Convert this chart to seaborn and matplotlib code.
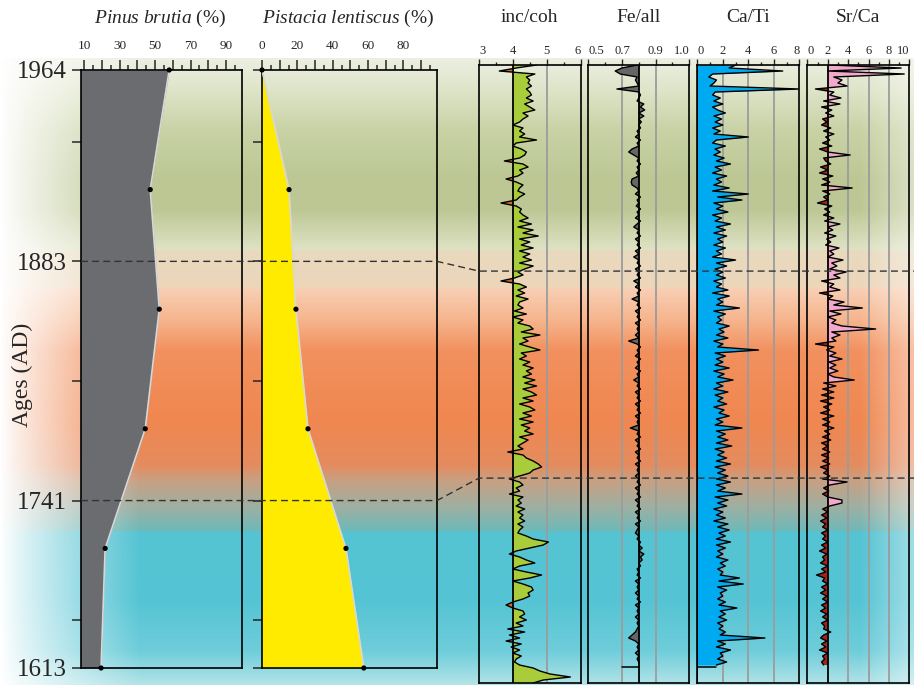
import numpy as np
import matplotlib
matplotlib.use("Agg")
import matplotlib.pyplot as plt
from matplotlib.lines import Line2D
import seaborn as sns

sns.set_theme(style="ticks")
plt.rcParams['font.family'] = ['Liberation Serif', 'DejaVu Serif']
plt.rcParams['mathtext.fontset'] = 'custom'
plt.rcParams['mathtext.it'] = 'Liberation Serif:italic'
plt.rcParams['mathtext.rm'] = 'Liberation Serif'

# ---- pollen data (depth units, 1964 at 0, 1613 at 50)
pollen_depth = [0, 10, 20, 30, 40, 50]
pinus = [58, 47.3, 52.4, 44.5, 21.9, 19.6]
pistacia = [0, 15.3, 19.2, 26.0, 47.5, 57.6]
age_depth = [0, 16, 36, 50]
age_labels = ['1964', '1883', '1741', '1613']
minor_depth = [6, 26, 46]

# ---- XRF scans, one value per sample step, core top to bottom
inc_coh = [4.7, 4.1, 3.6, 4.65, 4.4, 4.5, 4.45, 4.55, 4.4, 4.5,
           4.55, 4.4, 4.6, 4.35, 4.5, 4.65, 4.3, 4.45, 4.3, 4.2,
           4.0, 4.3, 4.2, 4.35, 4.2, 4.7, 4.1, 4.0, 4.25, 4.4,
           4.35, 4.2, 3.75, 4.3, 4.45, 4.2, 4.3, 4.15, 3.8, 4.1,
           4.3, 4.2, 4.15, 4.35, 4.2, 4.1, 3.65, 4.1, 4.25, 4.2,
           4.3, 4.45, 4.2, 4.55, 4.15, 4.6, 4.3, 4.75, 4.2, 4.5,
           4.25, 4.6, 4.2, 4.5, 4.3, 4.55, 4.2, 4.6, 4.35, 4.15,
           4.3, 4.05, 3.65, 4.2, 4.4, 4.15, 4.35, 4.1, 4.45, 4.2,
           4.15, 4.3, 4.05, 4.4, 4.0, 4.3, 4.15, 4.5, 4.6, 4.25,
           4.8, 4.3, 4.45, 4.2, 4.5, 4.8, 4.25, 4.4, 4.2, 4.5,
           4.3, 4.6, 4.4, 4.55, 4.3, 4.65, 4.35, 4.7, 4.3, 4.55,
           4.7, 4.3, 4.6, 4.2, 4.5, 4.65, 4.3, 4.55, 4.2, 4.6,
           4.25, 4.5, 4.35, 4.6, 4.2, 4.45, 4.3, 4.15, 4.3, 3.85,
           4.3, 4.4, 4.6, 4.75, 4.85, 4.6, 4.5, 4.2, 3.9, 4.2,
           4.3, 4.1, 4.2, 3.9, 4.3, 4.15, 4.25, 4.1, 4.35, 4.15,
           4.3, 4.2, 4.35, 4.15, 4.3, 4.2, 4.15, 4.4, 4.6, 5.05,
           4.9, 4.5, 4.1, 3.9, 4.2, 4.4, 4.65, 4.2, 4.0, 4.4,
           4.85, 4.5, 4.0, 4.3, 4.55, 4.6, 4.45, 4.5, 4.3, 4.0,
           3.8, 4.0, 4.3, 4.35, 4.2, 4.4, 4.1, 4.3, 3.85, 4.35,
           3.9, 4.2, 3.8, 4.25, 3.95, 4.2, 4.0, 4.25, 4.1, 4.05,
           4.2, 4.6, 4.8, 5.1, 5.7, 4.9, 4.6]
fe_all = [0.79, 0.70, 0.66, 0.69, 0.79, 0.78, 0.79, 0.80, 0.67, 0.80,
          0.81, 0.80, 0.79, 0.83, 0.81, 0.835, 0.80, 0.83, 0.80, 0.815,
          0.80, 0.81, 0.79, 0.80, 0.78, 0.81, 0.79, 0.80, 0.76, 0.74,
          0.77, 0.80, 0.79, 0.81, 0.79, 0.80, 0.785, 0.80, 0.76, 0.755,
          0.76, 0.79, 0.80, 0.78, 0.81, 0.79, 0.80, 0.785, 0.81, 0.79,
          0.80, 0.78, 0.81, 0.79, 0.77, 0.80, 0.79, 0.81, 0.78, 0.80,
          0.79, 0.81, 0.78, 0.80, 0.77, 0.80, 0.79, 0.81, 0.78, 0.80,
          0.79, 0.81, 0.77, 0.80, 0.78, 0.81, 0.79, 0.80, 0.76, 0.80,
          0.79, 0.81, 0.78, 0.80, 0.79, 0.81, 0.78, 0.80, 0.79, 0.80,
          0.78, 0.80, 0.74, 0.79, 0.81, 0.79, 0.80, 0.78, 0.81, 0.79,
          0.80, 0.78, 0.81, 0.79, 0.80, 0.77, 0.80, 0.79, 0.81, 0.78,
          0.80, 0.79, 0.81, 0.78, 0.80, 0.79, 0.81, 0.78, 0.80, 0.79,
          0.80, 0.75, 0.80, 0.79, 0.81, 0.78, 0.80, 0.79, 0.81, 0.78,
          0.80, 0.79, 0.81, 0.78, 0.80, 0.79, 0.80, 0.78, 0.80, 0.79,
          0.81, 0.78, 0.80, 0.79, 0.81, 0.78, 0.80, 0.79, 0.81, 0.78,
          0.80, 0.79, 0.81, 0.78, 0.80, 0.79, 0.78, 0.80, 0.79, 0.81,
          0.80, 0.82, 0.80, 0.83, 0.81, 0.82, 0.80, 0.81, 0.79, 0.80,
          0.79, 0.81, 0.78, 0.80, 0.79, 0.80, 0.78, 0.80, 0.79, 0.81,
          0.78, 0.80, 0.79, 0.80, 0.78, 0.80, 0.79, 0.80, 0.79, 0.78,
          0.76, 0.74, 0.78, 0.80, 0.79, 0.80, 0.78, 0.80, 0.79, 0.80,
          0.80]
fe_end = 0.70
ca_ti = [3.0, 2.5, 6.7, 1.2, 0.9, 1.5, 1.3, 1.0, 8.0, 1.4,
         1.2, 1.8, 1.3, 2.0, 1.2, 1.6, 2.2, 1.3, 1.9, 1.4,
         2.0, 1.2, 1.8, 1.3, 4.0, 1.5, 1.2, 2.2, 1.4, 1.8,
         1.3, 2.1, 1.5, 2.6, 1.4, 1.9, 1.2, 2.3, 1.5, 1.9,
         1.3, 2.5, 1.2, 4.0, 1.6, 3.5, 1.3, 2.0, 1.5, 2.4,
         1.2, 1.9, 1.4, 2.6, 1.5, 2.2, 1.3, 2.3, 1.6, 2.0,
         1.3, 2.2, 1.5, 1.9, 1.2, 3.0, 1.5, 2.3, 1.4, 2.0,
         1.5, 2.2, 1.3, 1.9, 1.5, 2.4, 1.2, 2.5, 1.6, 2.0,
         1.5, 3.3, 1.3, 2.2, 1.6, 1.9, 1.5, 2.5, 1.7, 2.1,
         1.5, 2.4, 1.3, 2.0, 1.6, 4.8, 1.4, 2.2, 1.5, 2.0,
         1.4, 2.5, 1.3, 2.1, 1.6, 2.8, 1.5, 2.0, 1.3, 2.4,
         1.4, 2.0, 1.6, 2.3, 1.3, 2.1, 1.7, 2.5, 1.5, 2.0,
         1.4, 3.5, 1.5, 2.2, 1.6, 2.4, 1.5, 2.7, 1.4, 2.1,
         1.6, 2.3, 1.5, 2.6, 1.4, 2.2, 1.6, 2.4, 1.5, 2.6,
         1.5, 2.2, 1.6, 3.5, 1.4, 2.4, 1.6, 2.3, 1.3, 2.0,
         1.5, 2.2, 1.3, 2.4, 1.6, 2.5, 1.7, 2.2, 1.5, 2.6,
         1.5, 2.2, 1.6, 2.0, 1.5, 2.4, 1.8, 2.2, 1.6, 2.0,
         1.8, 3.3, 1.7, 3.6, 1.6, 2.3, 1.8, 2.0, 1.6, 2.2,
         1.7, 3.1, 1.8, 2.2, 1.7, 2.3, 1.6, 2.0, 1.7, 2.2,
         1.8, 5.3, 1.6, 2.2, 1.5, 2.6, 1.8, 2.0, 1.6, 2.3,
         1.5]
ca_end = 0.0
sr_ca = [2.2, 9.2, 2.0, 9.5, 2.6, 3.4, 3.0, 3.9, 0.8, 2.6,
         2.2, 3.3, 1.6, 3.2, 1.4, 2.4, 1.8, 2.6, 1.5, 1.9,
         1.4, 2.3, 1.6, 2.6, 1.8, 2.2, 1.5, 2.4, 1.2, 2.0,
         4.2, 1.6, 1.8, 2.3, 1.3, 2.0, 1.2, 2.5, 1.5, 2.2,
         1.4, 4.4, 1.5, 2.2, 1.6, 2.0, 1.0, 2.4, 1.7, 2.2,
         1.6, 2.6, 1.7, 3.2, 2.0, 2.5, 1.7, 2.8, 1.9, 2.3,
         1.8, 3.1, 2.2, 2.6, 2.0, 3.5, 2.4, 2.9, 2.2, 3.8,
         2.6, 3.2, 1.4, 2.6, 2.2, 3.2, 1.2, 2.5, 2.0, 3.6,
         2.6, 5.4, 2.2, 3.3, 2.0, 2.8, 2.4, 3.4, 6.7, 2.4,
         3.2, 2.4, 2.8, 0.8, 2.6, 1.9, 2.8, 2.2, 3.4, 2.1,
         2.8, 2.2, 3.0, 2.0, 2.6, 4.6, 1.6, 2.8, 1.5, 2.6,
         1.4, 2.6, 1.3, 2.4, 1.6, 2.2, 1.3, 2.6, 1.5, 2.2,
         1.5, 2.6, 1.7, 2.2, 1.5, 2.3, 1.4, 2.0, 1.5, 2.2,
         1.4, 2.1, 1.5, 2.2, 1.3, 2.0, 1.6, 2.2, 1.5, 3.9,
         2.2, 1.6, 2.1, 1.5, 2.0, 3.4, 3.4, 2.2, 1.5, 2.0,
         1.4, 1.9, 1.3, 1.8, 1.5, 2.0, 1.4, 1.8, 1.5, 2.0,
         1.4, 1.8, 1.2, 1.9, 1.5, 1.7, 1.3, 2.0, 1.4, 1.8,
         0.9, 1.7, 1.5, 2.0, 1.4, 1.8, 1.3, 1.9, 1.5, 2.0,
         1.4, 1.8, 1.3, 1.9, 1.5, 2.0, 1.4, 1.7, 1.6, 2.3,
         1.6, 1.3, 1.9, 1.4, 1.8, 1.2, 2.0, 1.5, 1.7, 1.4,
         1.6]
xrf_bottom = 206
xrf_1883 = 68.7
xrf_1741 = 137.7

W, H = 914, 685
fig = plt.figure(figsize=(W / 100, H / 100), dpi=100)


def fx(px):
    return px / W


def fy(py):
    return 1 - py / H


# ---- background bands
stops_y = [0, 57, 58, 90, 130, 180, 210, 249, 250, 286, 287, 320, 350, 420,
           465, 480, 505, 530, 532, 600, 650, 685]
stops_c = [(255, 255, 255), (255, 255, 255), (236, 239, 226), (222, 228, 200),
           (200, 210, 165), (188, 199, 148), (190, 200, 150), (222, 226, 196),
           (232, 218, 190), (236, 214, 186), (248, 208, 182), (246, 180, 140),
           (242, 145, 95), (240, 135, 80), (228, 140, 95), (200, 160, 130),
           (160, 175, 160), (110, 185, 185), (85, 195, 210), (85, 196, 212),
           (110, 205, 218), (180, 228, 232)]
yy = np.arange(H)
col = np.stack([np.interp(yy, stops_y, [c[k] for c in stops_c]) for k in range(3)], axis=1) / 255
img = np.repeat(col[:, None, :], W, axis=1)
xx = np.arange(W)
m = np.clip(xx / 140, 0, 1) ** 0.9 * (1 - 0.45 * np.clip((xx - 860) / 54, 0, 1))
img = 1 - (1 - img) * m[None, :, None]
fig.figimage(img, 0, 0, origin='upper', zorder=-5)

lw_sp = 1.2


def style_axes(ax):
    ax.set_facecolor('none')
    for s in ax.spines.values():
        s.set_visible(True)
        s.set_linewidth(lw_sp)
        s.set_color('black')
    ax.xaxis.tick_top()
    ax.grid(False)


# ---- pollen panels
def pollen_axes(left, right, xlim, vals, color, major, labels):
    ax = fig.add_axes([fx(left), fy(668), fx(right - left), fy(70) - fy(668)], zorder=2)
    style_axes(ax)
    ax.set_xlim(*xlim)
    ax.set_ylim(50, 0)
    ax.fill_betweenx(pollen_depth, xlim[0] - 5, vals, color=color, lw=0, zorder=2)
    sns.lineplot(x=vals, y=pollen_depth, orient='y', sort=False, estimator=None,
                 color='#d8d8d8', lw=1.2, ax=ax, zorder=3)
    sns.scatterplot(x=vals, y=pollen_depth, color='black', s=14, ax=ax,
                    zorder=4, edgecolor='none', clip_on=False)
    ax.set_xticks(major)
    ax.set_xticklabels(labels)
    ax.set_xticks([v + 5 for v in major], minor=True)
    ax.tick_params(axis='x', which='major', length=7, width=1.1, pad=6,
                   labelsize=9.5, top=True, bottom=False)
    ax.tick_params(axis='x', which='minor', length=3.5, width=1.1, top=True, bottom=False)
    ax.set_yticks(age_depth + minor_depth)
    ax.tick_params(axis='y', length=6.5, width=1.1, left=True, right=False)
    ax.set_xlabel('')
    ax.set_ylabel('')
    return ax


ax_pin = pollen_axes(81, 242, (8.3, 99), pinus, '#6b6c70',
                     [10, 20, 30, 40, 50, 60, 70, 80, 90],
                     ['10', '', '30', '', '50', '', '70', '', '90'])
ax_pin.set_yticks(age_depth + minor_depth)
ax_pin.set_yticklabels(age_labels + [''] * len(minor_depth), fontsize=18)
ax_pin.tick_params(axis='y', pad=4)

ax_pis = pollen_axes(262, 437, (0, 99), pistacia, '#ffeb00',
                     [0, 10, 20, 30, 40, 50, 60, 70, 80, 90],
                     ['0', '', '20', '', '40', '', '60', '', '80', ''])
ax_pis.set_yticklabels([])

# ---- XRF panels
top, bot = 65, 683


def xrf_axes(left, right, xlim, vals, base, c_hi, c_lo, grid, major, labels, minor, end=None):
    ax = fig.add_axes([fx(left), fy(bot), fx(right - left), fy(top) - fy(bot)], zorder=2)
    style_axes(ax)
    d = np.arange(len(vals))
    v = np.array(vals)
    ax.set_xlim(*xlim)
    ax.set_ylim(xrf_bottom, 0)
    for g in grid:
        ax.axvline(g, color='#9c9c9c', lw=1.3, zorder=1)
    ax.fill_betweenx(d, base, v, where=v >= base, interpolate=True, color=c_hi, lw=0, zorder=2)
    ax.fill_betweenx(d, base, v, where=v <= base, interpolate=True, color=c_lo, lw=0, zorder=2)
    ax.axvline(base, color='black', lw=1.3, zorder=3)
    sns.lineplot(x=vals, y=d, orient='y', sort=False, estimator=None,
                 color='black', lw=1.0, ax=ax, zorder=4)
    if end is not None:
        # closing step at the base of the scanned section
        ax.plot([vals[-1], end], [d[-1] + 0.6, d[-1] + 0.6], color='black', lw=1.1, zorder=4)
    ax.set_xticks(major)
    ax.set_xticklabels(labels)
    ax.set_xticks(minor, minor=True)
    ax.tick_params(axis='x', which='major', length=4.5, width=1.0, pad=1,
                   labelsize=9, top=True, bottom=False)
    ax.tick_params(axis='x', which='minor', length=2.5, width=1.0, top=True, bottom=False)
    # keep edge labels inside their own panel
    tl = ax.get_xticklabels()
    tl[0].set_horizontalalignment('left')
    tl[-1].set_horizontalalignment('right')
    ax.set_yticks([])
    ax.set_xlabel('')
    ax.set_ylabel('')
    return ax


ax_inc = xrf_axes(479, 580.5, (3, 6), inc_coh, 4, '#a8cc3a', '#cf6a2c',
                  [5], [3, 4, 5, 6], ['3', '4', '5', '6'], [3.5, 4.5, 5.5])
ax_fe = xrf_axes(588.3, 689.3, (0.5, 1.1), fe_all, 0.8, '#666666', '#666666',
                 [0.7, 0.9], [0.5, 0.7, 0.9, 1.1], ['0.5', '0.7', '0.9', '1.0'],
                 [0.6, 0.8, 1.0], end=fe_end)
ax_ca = xrf_axes(697.3, 799.3, (0, 8), ca_ti, 0, '#00aaf0', '#00aaf0',
                 [2, 4, 6], [0, 2, 4, 6, 8], ['0', '2', '4', '6', '8'], [1, 3, 5, 7],
                 end=ca_end)
ax_sr = xrf_axes(807.3, 909.3, (0, 10), sr_ca, 2, '#f2a9cb', '#a3231c',
                 [4, 6, 8], [0, 2, 4, 6, 8, 10], ['0', '2', '4', '6', '8', '10'],
                 [1, 3, 5, 7, 9])

# ---- dashed correlation lines
fig_inv = fig.transFigure.inverted()


def to_fig(ax, x, y):
    return fig_inv.transform(ax.transData.transform((x, y)))


for pd_, xd_ in [(16, xrf_1883), (36, xrf_1741)]:
    p0 = to_fig(ax_pin, 8.3, pd_)
    p1 = to_fig(ax_pis, 99, pd_)
    p2 = to_fig(ax_inc, 3, xd_)
    p3 = (1.0, p2[1])
    fig.add_artist(Line2D([p0[0], p1[0], p2[0], p3[0]], [p0[1], p1[1], p2[1], p3[1]],
                          transform=fig.transFigure, color='#333333', lw=1.0,
                          ls=(0, (5, 3)), zorder=10))

# ---- titles
fig.text(fx(160), fy(18), r'$\it{Pinus\ brutia}$ (%)', ha='center', va='center', fontsize=14)
fig.text(fx(348), fy(18), r'$\it{Pistacia\ lentiscus}$ (%)', ha='center', va='center', fontsize=14)
for ax, t in [(ax_inc, 'inc/coh'), (ax_fe, 'Fe/all'), (ax_ca, 'Ca/Ti'), (ax_sr, 'Sr/Ca')]:
    b = ax.get_position()
    fig.text((b.x0 + b.x1) / 2, fy(18), t, ha='center', va='center', fontsize=14)
fig.text(fx(22), fy(375), 'Ages (AD)', rotation=90, ha='center', va='center', fontsize=17)

fig.savefig('out.png', dpi=100)
